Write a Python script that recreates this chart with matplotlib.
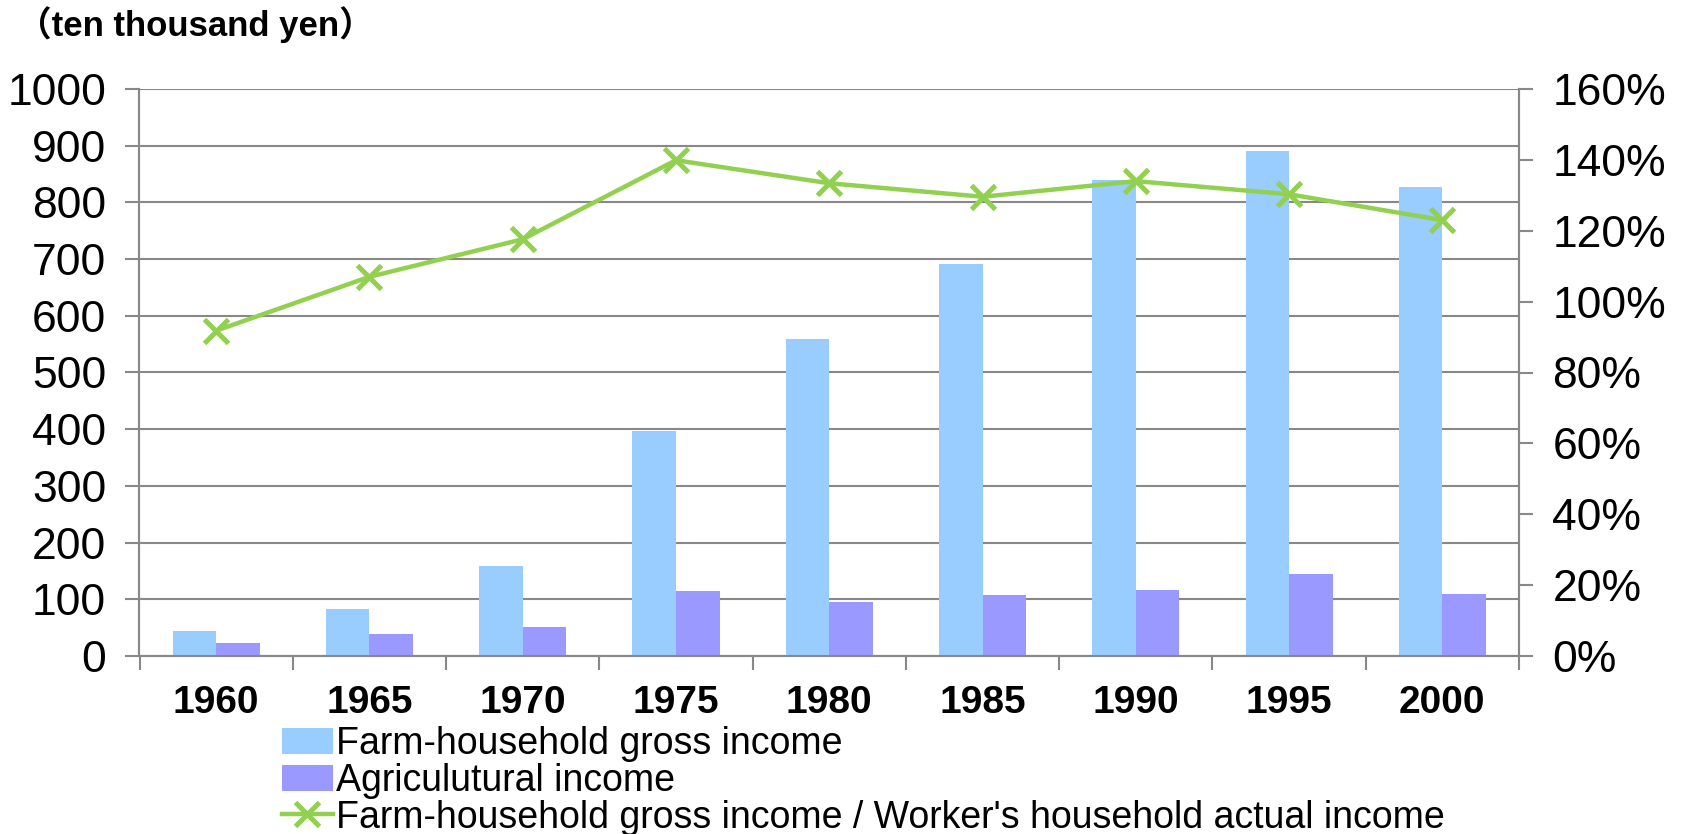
import matplotlib
matplotlib.use("Agg")
import matplotlib.pyplot as plt
import numpy as np
from matplotlib.ticker import FuncFormatter, FixedLocator

years = ["1960", "1965", "1970", "1975", "1980", "1985", "1990", "1995", "2000"]
gross_income = [44, 83, 159, 396, 559, 691, 839, 890, 828]
agri_income = [23, 38, 51, 115, 95, 108, 117, 144, 109]
ratio_pct = [91.8, 107.0, 117.6, 139.9, 133.4, 129.6, 134.0, 130.3, 123.0]

labels = ["Farm-household gross income", "Agriculutural income",
          "Farm-household gross income / Worker's household actual income"]

plt.rcParams['font.family'] = ['Liberation Sans', 'Noto Sans CJK JP', 'DejaVu Sans']

W, H, DPI = 1683, 834, 100
fig = plt.figure(figsize=(W / DPI, H / DPI), dpi=DPI)
ax = fig.add_axes([139.5 / W, 1 - 656 / H, (1519 - 139.5) / W, (656 - 89) / H])
ax2 = ax.twinx()

grid_c = "#888888"
x = np.arange(len(years))
bw = 0.284
b1 = ax.bar(x - bw / 2, gross_income, bw, color="#99CCFF", zorder=3)
b2 = ax.bar(x + bw / 2, agri_income, bw, color="#9999FF", zorder=3)
l1, = ax2.plot(x, ratio_pct, color="#92D050", lw=3.2, marker="x", ms=17, mew=3.6, zorder=4)

ax.set_xlim(-0.5, len(years) - 0.5)
ax.set_ylim(0, 1000)
ax.set_yticks(np.arange(0, 1001, 100))
ax2.set_ylim(0, 160)
ax2.set_yticks(np.arange(0, 161, 20))
ax2.yaxis.set_major_formatter(FuncFormatter(lambda v, p: f"{int(v)}%"))

ax.yaxis.grid(True, color=grid_c, lw=1.5, zorder=0)
ax.set_axisbelow(True)

ax.set_xticks(x)
ax.set_xticklabels(years, fontsize=28, fontweight="bold")
ax.xaxis.set_minor_locator(FixedLocator(np.arange(-0.5, len(years), 1.0)))
ax.tick_params(axis="x", which="major", length=0, pad=21)
ax.tick_params(axis="x", which="minor", length=10, width=1.5, color=grid_c)
ax.tick_params(axis="y", length=10, width=1.5, color=grid_c, labelsize=32, pad=14)
ax2.tick_params(axis="y", length=10, width=1.5, color=grid_c, labelsize=32, pad=14)

for a in (ax, ax2):
    a.spines["top"].set_visible(False)
    for s in ("left", "right", "bottom"):
        a.spines[s].set_color(grid_c)
        a.spines[s].set_linewidth(1.5)

fig.text(17 / W, 1 - 25 / H, "（ten thousand yen）", fontsize=25, fontweight="bold",
         ha="left", va="center")

leg = fig.legend([b1, b2, l1], labels, loc="upper left",
                 bbox_to_anchor=(282 / W, 1 - 726 / H), frameon=False,
                 fontsize=27, handlelength=1.35, handletextpad=0.1,
                 labelspacing=0.02, borderpad=0, borderaxespad=0)

fig.savefig("out.png", dpi=DPI)
